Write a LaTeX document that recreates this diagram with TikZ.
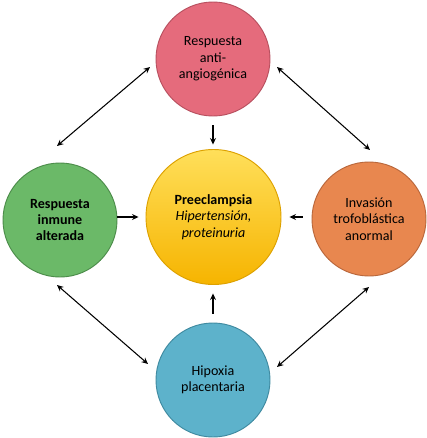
\documentclass[tikz,border=0pt]{standalone}
\usepackage{fontspec}
\setmainfont{Carlito}
\usepackage{xcolor}
\usetikzlibrary{arrows.meta}
\definecolor{pinkR}{HTML}{E56B7C}
\definecolor{pinkD}{HTML}{B8505F}
\definecolor{greenI}{HTML}{6BB968}
\definecolor{greenD}{HTML}{4C8C4A}
\definecolor{orangeT}{HTML}{E8874F}
\definecolor{orangeD}{HTML}{B9673B}
\definecolor{blueH}{HTML}{5DB2CB}
\definecolor{blueD}{HTML}{3F8AA0}
\definecolor{goldT}{HTML}{FFDF5A}
\definecolor{goldB}{HTML}{F6B400}
\definecolor{goldD}{HTML}{DDA100}

\begin{document}
\begin{tikzpicture}[x=0.03cm, y=-0.03cm,
    every node/.style={circle, line width=0.8pt, minimum size=3.42cm, inner sep=1pt, align=center, font=\fontsize{12}{14}\selectfont},
    link/.style={-{Stealth[length=5.5pt,width=5pt]}, line width=1pt, black},
    twoway/.style={{Stealth[length=5.5pt,width=5pt]}-{Stealth[length=5.5pt,width=5pt]}, line width=0.9pt, black}
]
\useasboundingbox (0,0) rectangle (427,438);
% ---- circles ----
\node[draw=goldD, top color=goldT, bottom color=goldB, minimum size=4.05cm] (pre) at (213.5,217) {\textbf{Preeclampsia}\\\textit{Hipertensión,}\\\textit{proteinuria}};
\node[draw=pinkD, fill=pinkR] (anti) at (213,59) {Respuesta\\anti-\\angiogénica};
\node[draw=greenD, fill=greenI] (inm) at (60,220) {\textbf{Respuesta}\\\textbf{inmune}\\\textbf{alterada}};
\node[draw=orangeD, fill=orangeT] (inv) at (369,219) {Invasión\\trofoblástica\\anormal};
\node[draw=blueD, fill=blueH] (hip) at (213,380) {Hipoxia\\placentaria};

% ---- arrows into the centre ----
\draw[link, shorten <=0.27cm, shorten >=0.135cm] (anti.south) -- (anti.south |- pre.north);
\draw[link, shorten <=0cm, shorten >=0.21cm] (inm.east |- pre.west) -- (pre.west);
\draw[link, shorten <=0.27cm, shorten >=0.24cm] (inv.west |- pre.east) -- (pre.east);
\draw[link, shorten <=0.27cm, shorten >=0.255cm] (hip.north) -- (hip.north |- pre.south);

% ---- two-way links round the ring ----
\coordinate (tl1) at (57,146);  \coordinate (tl2) at (150,67);
\coordinate (tr1) at (277,67);  \coordinate (tr2) at (370,150);
\coordinate (bl1) at (57,285);  \coordinate (bl2) at (148,364);
\coordinate (br1) at (277,367); \coordinate (br2) at (369,287);
\draw[twoway] (tl1) -- (tl2);
\draw[twoway] (tr1) -- (tr2);
\draw[twoway] (bl1) -- (bl2);
\draw[twoway] (br1) -- (br2);
\end{tikzpicture}
\end{document}
